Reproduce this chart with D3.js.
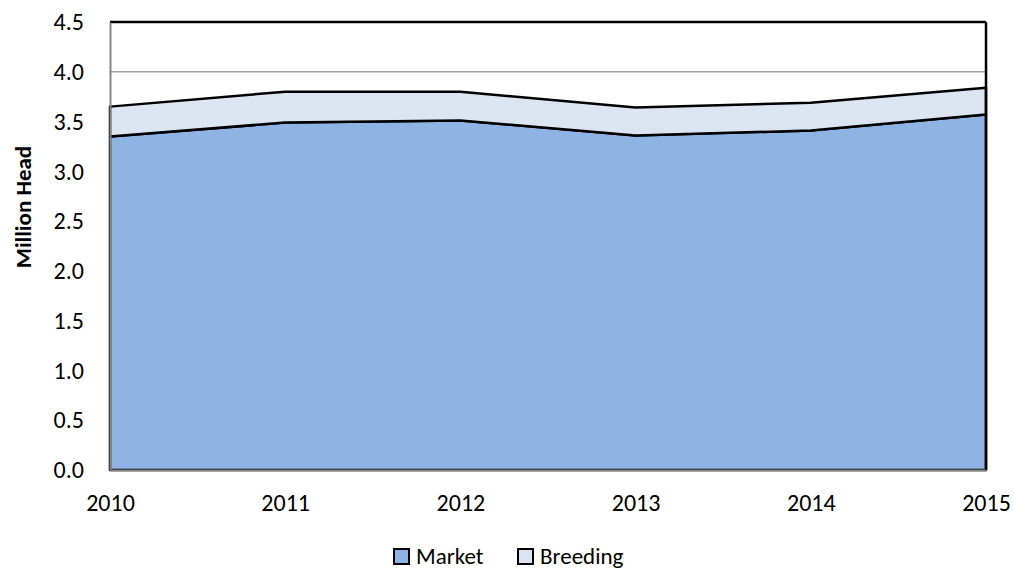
<!DOCTYPE html>
<html>
<head>
<meta charset="utf-8">
<script src="https://cdn.jsdelivr.net/npm/d3@7"></script>
<style>
  body { margin: 0; background: #fff; }
  svg, svg text { font-family: Carlito, Lato, "Open Sans", "Liberation Sans", sans-serif; }
</style>
</head>
<body>
<svg id="chart" width="1014" height="571"></svg>
<script>
const years = [2010, 2011, 2012, 2013, 2014, 2015];
const market = [3.35, 3.49, 3.51, 3.36, 3.41, 3.57];
const breeding = [0.30, 0.31, 0.29, 0.28, 0.28, 0.27];
const yTicks = [0, 0.5, 1.0, 1.5, 2.0, 2.5, 3.0, 3.5, 4.0, 4.5];
const seriesNames = ['Market', 'Breeding'];
const seriesColors = ['#8EB4E3', '#DCE6F2'];
const FONT = 'Carlito, Lato, "Open Sans", "Liberation Sans", sans-serif';

const svg = d3.select('#chart');
const margin = { left: 110, right: 28, top: 22, bottom: 101 };
const width = 1014 - margin.left - margin.right;
const height = 571 - margin.top - margin.bottom;

const x = d3.scaleLinear().domain([2010, 2015]).range([0, width]);
const y = d3.scaleLinear().domain([0, 4.5]).range([height, 0]);

const g = svg.append('g').attr('transform', `translate(${margin.left},${margin.top})`);

// gridlines
g.selectAll('line.grid')
  .data(yTicks.filter(d => d > 0))
  .enter().append('line')
  .attr('class', 'grid')
  .attr('x1', 0).attr('x2', width)
  .attr('y1', d => y(d)).attr('y2', d => y(d))
  .attr('stroke', '#a0a0a0').attr('stroke-width', 1.5);

const table = years.map((yr, i) => ({ year: yr, Market: market[i], Breeding: breeding[i] }));
const stacked = d3.stack().keys(seriesNames)(table);

const area = d3.area()
  .x(d => x(d.data.year))
  .y0(d => y(d[0]))
  .y1(d => y(d[1]));

g.selectAll('path.area')
  .data(stacked)
  .enter().append('path')
  .attr('class', 'area')
  .attr('d', area)
  .attr('fill', (d, i) => seriesColors[i])
  .attr('stroke', '#000')
  .attr('stroke-width', 2.5)
  .attr('stroke-linejoin', 'round');

// plot border: top and right black
g.append('line').attr('x1', 0).attr('x2', width).attr('y1', 0).attr('y2', 0)
  .attr('stroke', '#000').attr('stroke-width', 2.5);
g.append('line').attr('x1', width).attr('x2', width).attr('y1', 0).attr('y2', height)
  .attr('stroke', '#000').attr('stroke-width', 2.5);

// axes (d3 sets font-family on the axis group, so override it)
const yAxis = d3.axisLeft(y).tickValues(yTicks).tickFormat(d3.format('.1f')).tickSize(0).tickPadding(26);
const yG = g.append('g').call(yAxis).attr('font-family', FONT).attr('font-size', 24);
yG.select('.domain').attr('stroke', '#868686').attr('stroke-width', 2);
yG.selectAll('text').attr('fill', '#000');

const xAxis = d3.axisBottom(x).tickValues(years).tickFormat(d3.format('d')).tickSize(0).tickPadding(24);
const xG = g.append('g').attr('transform', `translate(0,${height})`).call(xAxis)
  .attr('font-family', FONT).attr('font-size', 24);
xG.select('.domain').attr('stroke', '#868686').attr('stroke-width', 2);
xG.selectAll('text').attr('fill', '#000');

// y title
svg.append('text')
  .attr('transform', `translate(31,${margin.top + height / 2 - 39}) rotate(-90)`)
  .attr('text-anchor', 'middle')
  .attr('font-size', 23).attr('font-weight', 'bold')
  .text('Million Head');

// legend
const legendX = [394, 518];
const legend = svg.append('g').selectAll('g')
  .data(seriesNames)
  .enter().append('g')
  .attr('transform', (d, i) => `translate(${legendX[i]},549)`);
legend.append('rect')
  .attr('width', 15).attr('height', 15)
  .attr('fill', (d, i) => seriesColors[i])
  .attr('stroke', '#000').attr('stroke-width', 2);
legend.append('text')
  .attr('x', 22).attr('y', 15)
  .attr('font-size', 23)
  .text(d => d);
</script>
</body>
</html>
